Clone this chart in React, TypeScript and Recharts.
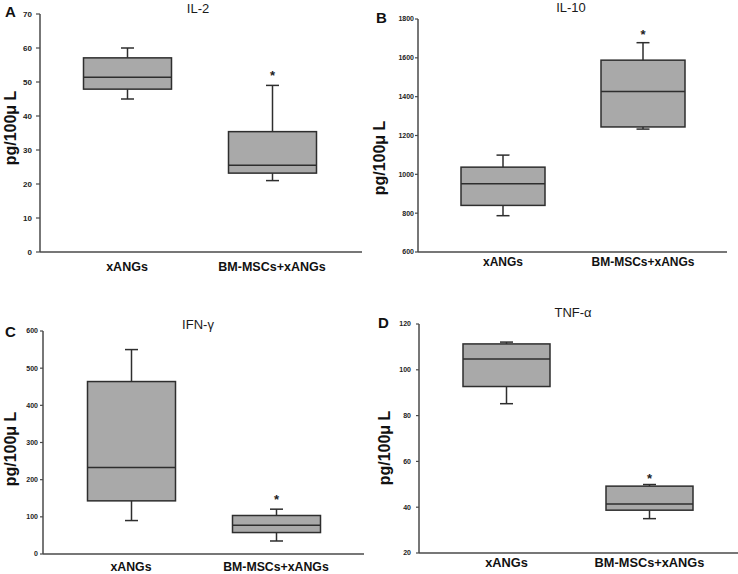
import React from 'react';
import { ComposedChart, Bar, XAxis, YAxis } from 'recharts';

const categories = ['xANGs', 'BM-MSCs+xANGs'];

// IL-2
const il2Min = [45, 21];
const il2Q1 = [47.9, 23.2];
const il2Median = [51.4, 25.5];
const il2Q3 = [57.1, 35.4];
const il2Max = [60, 49];
const il2Star = [null, 52.7];
const il2Ticks = [0, 10, 20, 30, 40, 50, 60, 70];

// IL-10
const il10Min = [787, 1233];
const il10Q1 = [840, 1244];
const il10Median = [951, 1426];
const il10Q3 = [1037, 1588];
const il10Max = [1099, 1678];
const il10Star = [null, 1735];
const il10Ticks = [600, 800, 1000, 1200, 1400, 1600, 1800];

// IFN-γ
const ifnMin = [90, 35];
const ifnQ1 = [143, 57.7];
const ifnMedian = [233, 77.4];
const ifnQ3 = [464, 103.6];
const ifnMax = [550, 120.6];
const ifnStar = [null, 155];
const ifnTicks = [0, 100, 200, 300, 400, 500, 600];

// TNF-α
const tnfMin = [85.2, 35];
const tnfQ1 = [92.7, 38.7];
const tnfMedian = [104.7, 41.4];
const tnfQ3 = [111.3, 49.2];
const tnfMax = [112.1, 49.9];
const tnfStar = [null, 54];
const tnfTicks = [20, 40, 60, 80, 100, 120];

const FONT = '"Liberation Sans", Arial, sans-serif';
const BOX_FILL = '#a9a9a9';
const DARK = '#2e2e2e';
const AXIS = '#4a4a4a';

function build(mins: number[], q1: number[], med: number[], q3: number[], maxs: number[], stars: (number | null)[]) {
  return categories.map((c, i) => ({
    name: c,
    range: [mins[i], maxs[i]],
    min: mins[i],
    q1: q1[i],
    median: med[i],
    q3: q3[i],
    max: maxs[i],
    star: stars[i],
  }));
}

const BoxShape = (props: any) => {
  const { x, y, width, height, payload } = props;
  if (!payload) return null;
  const top = Math.min(y, y + height);
  const h = Math.abs(height);
  const lo = payload.min;
  const hi = payload.max;
  const toY = (v: number) => top + (h * (hi - v)) / (hi - lo);
  const cx = x + width / 2;
  const cap = 6.5;
  const yMax = toY(payload.max);
  const yMin = toY(payload.min);
  const yQ1 = toY(payload.q1);
  const yQ3 = toY(payload.q3);
  const yMed = toY(payload.median);
  return (
    <g>
      <line x1={cx} x2={cx} y1={yMax} y2={yQ3} stroke={DARK} strokeWidth={1.5} />
      <line x1={cx} x2={cx} y1={yQ1} y2={yMin} stroke={DARK} strokeWidth={1.5} />
      <line x1={cx - cap} x2={cx + cap} y1={yMax} y2={yMax} stroke={DARK} strokeWidth={1.5} />
      <line x1={cx - cap} x2={cx + cap} y1={yMin} y2={yMin} stroke={DARK} strokeWidth={1.5} />
      <rect x={x} y={yQ3} width={width} height={yQ1 - yQ3} fill={BOX_FILL} stroke={DARK} strokeWidth={1.5} />
      <line x1={x} x2={x + width} y1={yMed} y2={yMed} stroke={DARK} strokeWidth={1.5} />
      {payload.star != null ? (
        <text x={cx} y={toY(payload.star) + 7.5} textAnchor="middle" fontFamily={FONT} fontWeight="bold" fontSize={13} fill="#222">*</text>
      ) : null}
    </g>
  );
};

type PanelProps = {
  left: number;
  top: number;
  data: any[];
  domain: [number, number];
  ticks: number[];
  margin: { top: number; right: number; bottom: number; left: number };
  padL: number;
  padR: number;
  barSize: number;
  tickFont: number;
  tickSize: number;
  tickMargin: number;
  xMargin: number;
  xFont: number;
};

function Panel(p: PanelProps) {
  return (
    <div style={{ position: 'absolute', left: p.left, top: p.top }}>
      <ComposedChart width={369} height={287} data={p.data} margin={p.margin}>
        <XAxis
          dataKey="name"
          height={20}
          padding={{ left: p.padL, right: p.padR }}
          tickLine={false}
          tickSize={0}
          tickMargin={p.xMargin}
          axisLine={{ stroke: AXIS, strokeWidth: 1.5 }}
          tick={{ fontSize: p.xFont, fontWeight: 'bold', fill: '#111', fontFamily: FONT }}
          interval={0}
        />
        <YAxis
          width={30}
          domain={p.domain}
          ticks={p.ticks}
          type="number"
          allowDataOverflow
          axisLine={{ stroke: AXIS, strokeWidth: 1.5 }}
          tickLine={{ stroke: AXIS, strokeWidth: 1.2 }}
          tickSize={p.tickSize}
          tickMargin={p.tickMargin}
          tick={{ fontSize: p.tickFont, fontWeight: 'bold', fill: '#222', fontFamily: FONT }}
          interval={0}
        />
        <Bar dataKey="range" barSize={p.barSize} shape={BoxShape} isAnimationActive={false} />
      </ComposedChart>
    </div>
  );
}

const il2Data = build(il2Min, il2Q1, il2Median, il2Q3, il2Max, il2Star);
const il10Data = build(il10Min, il10Q1, il10Median, il10Q3, il10Max, il10Star);
const ifnData = build(ifnMin, ifnQ1, ifnMedian, ifnQ3, ifnMax, ifnStar);
const tnfData = build(tnfMin, tnfQ1, tnfMedian, tnfQ3, tnfMax, tnfStar);

export default function App() {
  const yLabel = (x: number, y: number) => (
    <text
      transform={`translate(${x},${y}) rotate(-90)`}
      textAnchor="middle"
      fontFamily={FONT}
      fontWeight="bold"
      fontSize={16}
      fill="#111"
    >
      pg/100μ L
    </text>
  );
  const title = (x: number, y: number, t: string) => (
    <text x={x} y={y} textAnchor="middle" fontFamily={FONT} fontSize={13} fill="#1a1a1a">{t}</text>
  );
  const letter = (x: number, y: number, t: string) => (
    <text x={x} y={y} fontFamily={FONT} fontWeight="bold" fontSize={15} fill="#111">{t}</text>
  );
  return (
    <div style={{ position: 'absolute', left: 0, top: 0, width: 738, height: 574, background: '#fff', overflow: 'hidden' }}>
      <Panel left={0} top={0} data={il2Data} domain={[0, 70]} ticks={il2Ticks}
        margin={{ top: 14, right: 7, bottom: 15, left: 10 }} padL={14.5} padR={17.5} barSize={88}
        tickFont={8} tickSize={4} tickMargin={4} xMargin={10} xFont={12.5} />
      <Panel left={369} top={0} data={il10Data} domain={[600, 1800]} ticks={il10Ticks}
        margin={{ top: 19, right: 11, bottom: 15, left: 19 }} padL={15} padR={14} barSize={84}
        tickFont={7} tickSize={3} tickMargin={1} xMargin={5} xFont={12} />
      <Panel left={0} top={287} data={ifnData} domain={[0, 600]} ticks={ifnTicks}
        margin={{ top: 44, right: 5, bottom: 0, left: 13 }} padL={15.5} padR={15.5} barSize={88}
        tickFont={7} tickSize={3} tickMargin={2} xMargin={8} xFont={12.3} />
      <Panel left={369} top={287} data={tnfData} domain={[20, 120]} ticks={tnfTicks}
        margin={{ top: 37, right: 0, bottom: 1, left: 20 }} padL={16} padR={17} barSize={87}
        tickFont={7} tickSize={3} tickMargin={5} xMargin={5} xFont={12.8} />
      <svg width={738} height={574} style={{ position: 'absolute', left: 0, top: 0, pointerEvents: 'none' }}>
        {letter(5, 17, 'A')}
        {letter(376, 23, 'B')}
        {letter(5, 337, 'C')}
        {letter(378, 328, 'D')}
        {title(198, 13, 'IL-2')}
        {title(571, 12, 'IL-10')}
        {title(198, 329, 'IFN-γ')}
        {title(573, 317, 'TNF-α')}
        {yLabel(16, 128)}
        {yLabel(385, 158)}
        {yLabel(16, 449)}
        {yLabel(390, 448)}
      </svg>
    </div>
  );
}
